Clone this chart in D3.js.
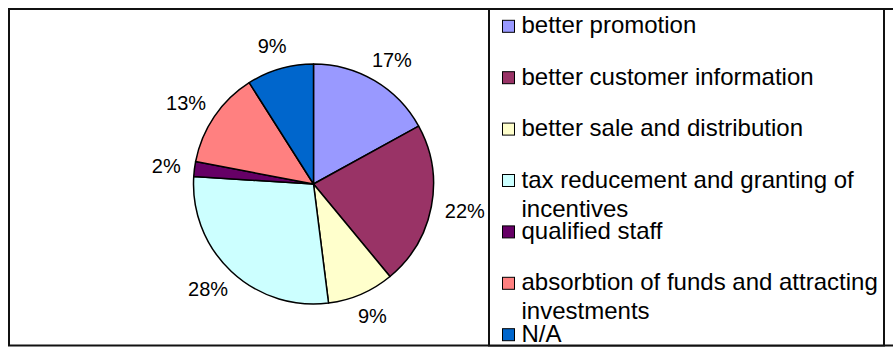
<!DOCTYPE html>
<html>
<head>
<meta charset="utf-8">
<script src="https://cdn.jsdelivr.net/npm/d3@7"></script>
<style>
  html, body { margin: 0; padding: 0; background: #fff; }
  svg { display: block; font-family: "Liberation Sans", Arial, sans-serif; }
</style>
</head>
<body>
<svg id="chart" width="893" height="347"></svg>
<script>
// Suggested measures and their share of answers (%)
const categories = [
  "better promotion",
  "better customer information",
  "better sale and distribution",
  "tax reducement and granting of incentives",
  "qualified staff",
  "absorbtion of funds and attracting investments",
  "N/A"
];
const values = [17, 22, 9, 28, 2, 13, 9];
const sliceColors = ["#9999FF", "#993366", "#FFFFCC", "#CCFFFF", "#660066", "#FF8080", "#0066CC"];

const svg = d3.select("#chart");
const W = 893, H = 347;

// chart area frame (runs past the right edge)
svg.append("rect")
  .attr("x", 9).attr("y", 9)
  .attr("width", 900).attr("height", 336.5)
  .attr("fill", "#fff").attr("stroke", "#111").attr("stroke-width", 2);

// pie
const cx = 313.5, cy = 184, radius = 120;
const pie = d3.pie().sort(null).value(d => d);
const arcs = pie(values);
const arc = d3.arc().innerRadius(0).outerRadius(radius);

const g = svg.append("g").attr("transform", `translate(${cx},${cy})`);
g.selectAll("path.slice")
  .data(arcs)
  .join("path")
  .attr("class", "slice")
  .attr("d", arc)
  .attr("fill", (d, i) => sliceColors[i])
  .attr("stroke", "#000")
  .attr("stroke-width", 1.5)
  .attr("stroke-linejoin", "round");

// percentage labels outside the slices
const labelArc = d3.arc().innerRadius(134).outerRadius(134);
const labelFont = 20;
g.selectAll("text.pct")
  .data(arcs)
  .join("text")
  .attr("class", "pct")
  .attr("font-size", labelFont)
  .attr("fill", "#000")
  .attr("text-anchor", "middle")
  .text(d => d.data + "%")
  .each(function(d) {
    const w = this.getComputedTextLength();
    const h = labelFont;
    const mid = (d.startAngle + d.endAngle) / 2;
    const [x, y] = labelArc.centroid(d);
    const tx = x + Math.sin(mid) * w / 2;
    const ty = y - Math.cos(mid) * h / 2;
    d3.select(this).attr("x", tx).attr("y", ty + 0.36 * labelFont);
  });

// legend
const legendX = 489, legendRight = 884;
svg.append("rect")
  .attr("x", legendX).attr("y", 9)
  .attr("width", legendRight - legendX).attr("height", 336.5)
  .attr("fill", "#fff").attr("stroke", "#111").attr("stroke-width", 2);

const legendFont = 24;
const lineGap = 29;
const textX = 521.5;
const maxTextWidth = 360;
const rowY = d3.scalePoint().domain(categories).range([33.3, 341.7]);

// split a label into lines that fit the legend width
const measurer = svg.append("text").attr("font-size", legendFont).attr("visibility", "hidden");
function wrap(label) {
  const words = label.split(" ");
  const lines = [];
  let cur = "";
  words.forEach(wd => {
    const test = cur ? cur + " " + wd : wd;
    measurer.text(test);
    if (cur && measurer.node().getComputedTextLength() > maxTextWidth) {
      lines.push(cur);
      cur = wd;
    } else {
      cur = test;
    }
  });
  if (cur) lines.push(cur);
  return lines;
}

const items = svg.append("g").selectAll("g.item")
  .data(categories)
  .join("g")
  .attr("class", "item");

items.append("rect")
  .attr("x", 502.5)
  .attr("y", d => rowY(d) - 13)
  .attr("width", 12).attr("height", 12)
  .attr("fill", (d, i) => sliceColors[i])
  .attr("stroke", "#000").attr("stroke-width", 1);

items.append("text")
  .attr("font-size", legendFont)
  .attr("fill", "#000")
  .each(function(d) {
    const t = d3.select(this);
    wrap(d).forEach((line, k) => {
      t.append("tspan")
        .attr("x", textX)
        .attr("y", rowY(d) + k * lineGap)
        .text(line);
    });
  });
measurer.remove();
</script>
</body>
</html>
